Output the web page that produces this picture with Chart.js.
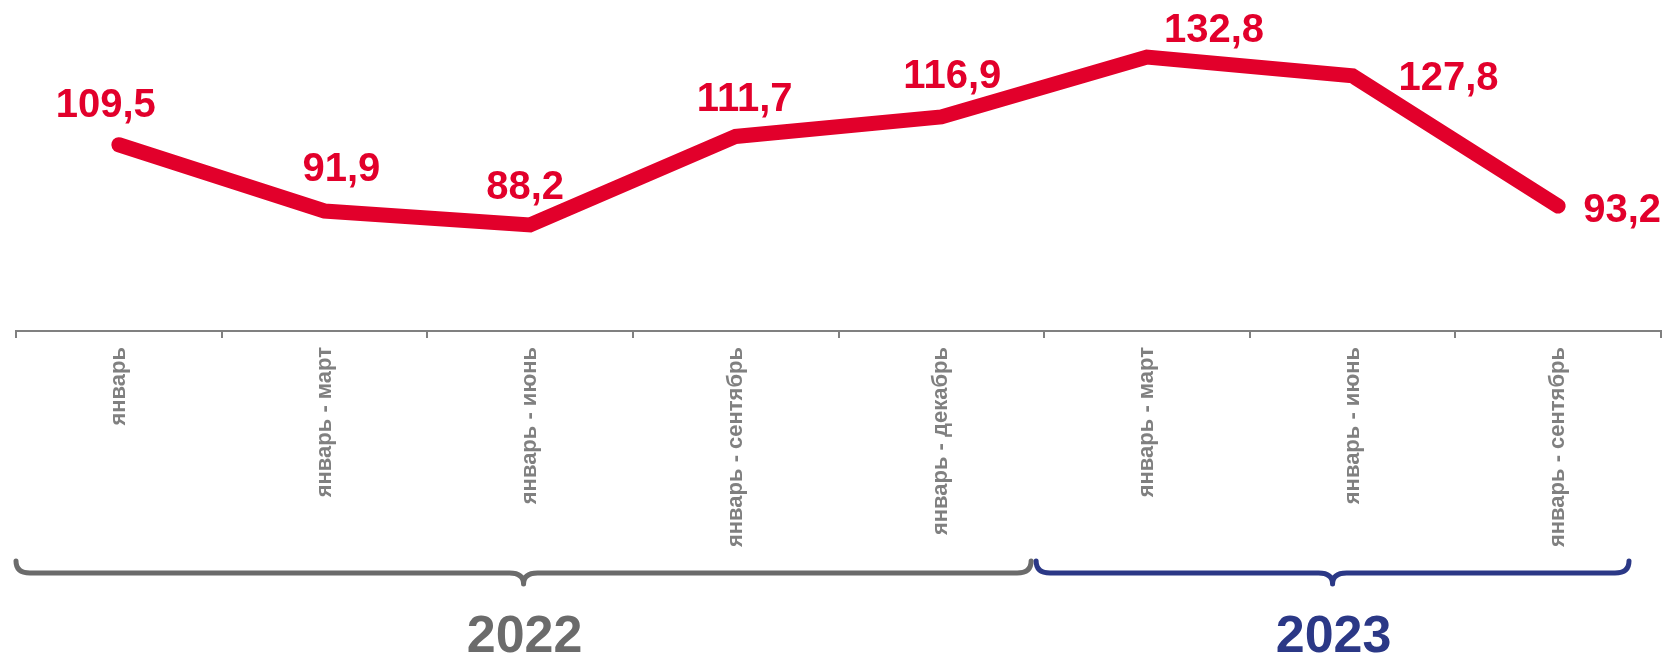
<!DOCTYPE html>
<html>
<head>
<meta charset="utf-8">
<script src="https://cdn.jsdelivr.net/npm/chart.js@4/dist/chart.umd.min.js"></script>
<style>
  html,body{margin:0;padding:0;background:#fff;}
  canvas{display:block;}
</style>
</head>
<body>
<canvas id="c" width="1668" height="654"></canvas>
<script>
/* ===== данные ===== */
const periods = ["январь","январь - март","январь - июнь","январь - сентябрь","январь - декабрь","январь - март","январь - июнь","январь - сентябрь"];
const values = [109.5, 91.9, 88.2, 111.7, 116.9, 132.8, 127.8, 93.2];
const years = ["2022","2023"];
const yearFirst = [0, 5];   // индекс первой категории года
const yearLast = [4, 7];

/* ===== оформление ===== */
const RED = "#E2002B", GRAY = "#808080";
const yearColors = ["#6B6B6B","#2B3886"];
const FONT = "'Liberation Sans', Arial, sans-serif";
// смещения подписей значений (центр текста / базовая линия) от точки
const labelDx = [-13, 17, -5, 9, 11, 67, 96, 64];
const labelDy = [-28, -30, -26, -25, -29, -15, 14, 16];
// отступы концов скобок от границ категорий
const braceInset = [[0, 13], [-8, 32]];

const valueLabels = {
  id: "valueLabels",
  afterDatasetsDraw(chart){
    const ctx = chart.ctx, meta = chart.getDatasetMeta(0);
    ctx.save();
    ctx.fillStyle = RED;
    ctx.font = "bold 40px " + FONT;
    ctx.textAlign = "center";
    ctx.textBaseline = "alphabetic";
    meta.data.forEach((p, i) => {
      ctx.fillText(values[i].toFixed(1).replace(".", ","), p.x + labelDx[i], p.y + labelDy[i]);
    });
    ctx.restore();
  }
};

function brace(ctx, x0, x1, yTop, yMid, yTip, r){
  const xc = (x0 + x1) / 2;
  ctx.beginPath();
  ctx.moveTo(x0, yTop);
  ctx.quadraticCurveTo(x0, yMid, x0 + r, yMid);
  ctx.lineTo(xc - r, yMid);
  ctx.quadraticCurveTo(xc, yMid, xc, yTip);
  ctx.quadraticCurveTo(xc, yMid, xc + r, yMid);
  ctx.lineTo(x1 - r, yMid);
  ctx.quadraticCurveTo(x1, yMid, x1, yTop);
  ctx.stroke();
}

const yearBraces = {
  id: "yearBraces",
  afterDraw(chart){
    const ctx = chart.ctx, x = chart.scales.x;
    const half = (x.getPixelForValue(1) - x.getPixelForValue(0)) / 2;
    ctx.save();
    ctx.lineWidth = 5;
    ctx.lineCap = "round";
    ctx.lineJoin = "round";
    years.forEach((yr, k) => {
      const x0 = x.getPixelForValue(yearFirst[k]) - half + braceInset[k][0];
      const x1 = x.getPixelForValue(yearLast[k]) + half - braceInset[k][1];
      ctx.strokeStyle = yearColors[k];
      brace(ctx, x0, x1, 561, 573, 584, 14);
      ctx.fillStyle = yearColors[k];
      ctx.font = "bold 52px " + FONT;
      ctx.textAlign = "center";
      ctx.textBaseline = "alphabetic";
      ctx.fillText(yr, (x0 + x1) / 2 + 1, 652);
    });
    ctx.restore();
  }
};

new Chart(document.getElementById("c"), {
  type: "line",
  data: {
    labels: periods,
    datasets: [{
      data: values,
      borderColor: RED,
      borderWidth: 15,
      borderCapStyle: "round",
      borderJoinStyle: "miter",
      pointRadius: 0,
      tension: 0,
      fill: false
    }]
  },
  options: {
    responsive: false,
    animation: false,
    devicePixelRatio: 1,
    layout: {padding: {left: 16, right: 7, top: 30, bottom: 0}},
    plugins: {legend: {display: false}, tooltip: {enabled: false}},
    scales: {
      y: {display: false, min: 60, max: 140},
      x: {
        offset: true,
        afterFit: s => { s.height = 323; },
        border: {display: true, color: GRAY, width: 2},
        grid: {display: true, offset: true, drawOnChartArea: false, drawTicks: true, tickLength: 7, color: GRAY, lineWidth: 2},
        ticks: {
          autoSkip: false, maxRotation: 90, minRotation: 90, padding: 9,
          color: GRAY, font: {family: FONT, size: 22, weight: "bold"}
        }
      }
    }
  },
  plugins: [valueLabels, yearBraces]
});
</script>
</body>
</html>
